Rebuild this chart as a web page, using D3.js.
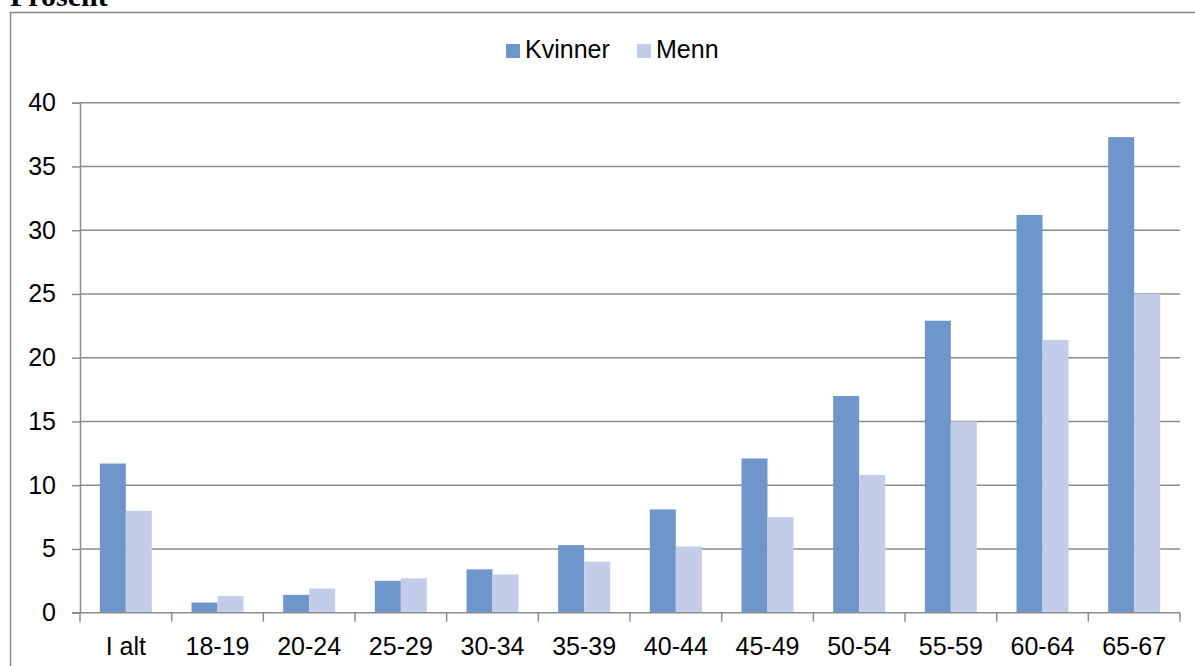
<!DOCTYPE html>
<html>
<head>
<meta charset="utf-8">
<script src="https://cdn.jsdelivr.net/npm/d3@7"></script>
<style>
  html, body { margin: 0; padding: 0; background: #fff; overflow: hidden; }
  svg { display: block; }
  text { font-family: "Liberation Sans", Arial, sans-serif; fill: #000; }
</style>
</head>
<body>
<svg id="chart" width="1195" height="666"></svg>
<script>
const categories = ["I alt", "18-19", "20-24", "25-29", "30-34", "35-39", "40-44", "45-49", "50-54", "55-59", "60-64", "65-67"];
const seriesNames = ["Kvinner", "Menn"];
const kvinner = [11.7, 0.8, 1.4, 2.5, 3.4, 5.3, 8.1, 12.1, 17.0, 22.9, 31.2, 37.3];
const menn = [8.0, 1.3, 1.9, 2.7, 3.0, 4.0, 5.2, 7.5, 10.8, 15.0, 21.4, 25.0];
const yTicks = [0, 5, 10, 15, 20, 25, 30, 35, 40];
const titleText = "Prosent";
const colors = ["#6E96CB", "#C3CDE9"];

const seriesValues = [kvinner, menn];
const data = categories.map((c, i) => ({ cat: c, vals: seriesNames.map((s, j) => ({ s, v: seriesValues[j][i], j })) }));

const svg = d3.select("#chart");
const plotLeft = 80, plotRight = 1180, plotTop = 102.7, plotBottom = 612.7;

// frame
svg.append("rect")
  .attr("x", 10.5).attr("y", 12.5)
  .attr("width", 1190).attr("height", 700)
  .attr("fill", "none").attr("stroke", "#8a8a8a").attr("stroke-width", 1.5);

// title
svg.append("text")
  .attr("x", 10).attr("y", 6)
  .style("font-family", "'Liberation Serif', 'Times New Roman', serif")
  .style("font-weight", "bold")
  .style("font-size", "30px")
  .text(titleText);

const x = d3.scaleBand().domain(categories).range([plotLeft, plotRight]).paddingInner(0).paddingOuter(0);
const x1 = d3.scaleBand().domain(seriesNames).range([0, x.bandwidth()]).paddingInner(0).paddingOuter(0.763);
const y = d3.scaleLinear().domain([0, 40]).range([plotBottom, plotTop]);

// gridlines
svg.append("g").selectAll("line").data(yTicks.filter(t => t > 0)).join("line")
  .attr("x1", plotLeft).attr("x2", plotRight)
  .attr("y1", d => y(d)).attr("y2", d => y(d))
  .attr("stroke", "#8c8c8c").attr("stroke-width", 1.5);

// bars
const g = svg.append("g");
g.selectAll("g").data(data).join("g")
  .attr("transform", d => `translate(${x(d.cat)},0)`)
  .selectAll("rect").data(d => d.vals).join("rect")
  .attr("x", d => x1(d.s))
  .attr("width", x1.bandwidth())
  .attr("y", d => y(d.v))
  .attr("height", d => y(0) - y(d.v))
  .attr("fill", d => colors[d.j]);

// y axis
const yAxis = d3.axisLeft(y).tickValues(yTicks).tickSize(8).tickPadding(16).tickFormat(d3.format("d"));
const ya = svg.append("g").attr("transform", `translate(${plotLeft},0)`).call(yAxis);
ya.select(".domain").attr("stroke", "#8c8c8c").attr("stroke-width", 1.5);
ya.selectAll(".tick line").attr("stroke", "#8c8c8c").attr("stroke-width", 1.5);
ya.selectAll(".tick text").style("font-size", "25px").attr("fill", "#000")
  .style("font-family", "'Liberation Sans', Arial, sans-serif");

// x axis
const xa = svg.append("g").attr("transform", `translate(0,${plotBottom})`);
xa.append("line").attr("x1", plotLeft - 8).attr("x2", plotRight).attr("y1", 0).attr("y2", 0)
  .attr("stroke", "#8c8c8c").attr("stroke-width", 1.5);
const boundaries = categories.map(c => x(c)).concat([x(categories[categories.length - 1]) + x.bandwidth()]);
xa.selectAll("line.tk").data(boundaries).join("line").attr("class", "tk")
  .attr("x1", d => d).attr("x2", d => d).attr("y1", 0).attr("y2", 9)
  .attr("stroke", "#8c8c8c").attr("stroke-width", 1.5);
xa.selectAll("text").data(categories).join("text")
  .attr("x", d => x(d) + x.bandwidth() / 2)
  .attr("y", 42)
  .attr("text-anchor", "middle")
  .style("font-size", "25px")
  .text(d => d);

// legend
const legendItems = [{ name: "Kvinner", x: 506 }, { name: "Menn", x: 637 }];
const lg = svg.append("g");
legendItems.forEach((it, i) => {
  lg.append("rect").attr("x", it.x).attr("y", 44).attr("width", 14).attr("height", 14).attr("fill", colors[i]);
  lg.append("text").attr("x", it.x + 19).attr("y", 58).style("font-size", "25px").text(seriesNames[i]);
});
</script>
</body>
</html>
